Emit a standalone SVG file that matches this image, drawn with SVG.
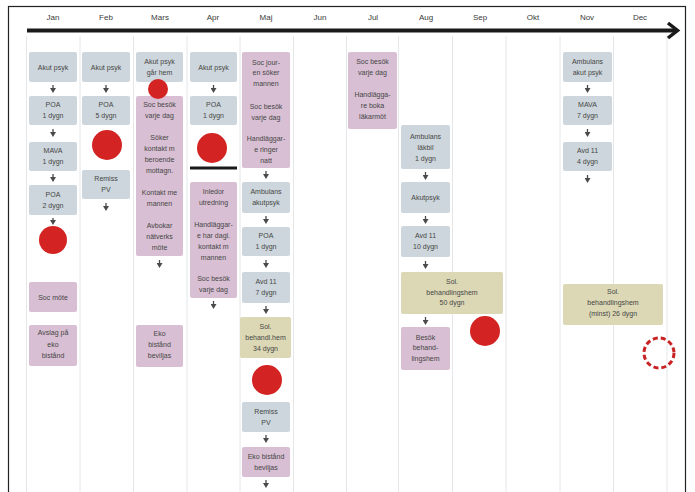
<svg xmlns="http://www.w3.org/2000/svg" width="695" height="492" viewBox="0 0 695 492">
<defs>
<marker id="ah" markerWidth="5" markerHeight="6" refX="1" refY="3" orient="auto" markerUnits="userSpaceOnUse" viewBox="0 0 5 6">
<path d="M0,0 L5,3 L0,6 Z" fill="#4a4a4a"/>
</marker>
</defs>
<style>
.g{fill:#cdd6dc}
.p{fill:#d8bfd3}
.t{fill:#dcd8b5}
.grid{stroke:#e4e6e8;stroke-width:1}
text{font-family:"Liberation Sans",Arial,sans-serif;font-size:7px;fill:#464646;text-anchor:middle}
.m{font-size:8px;fill:#3a3a3a}
.dot{fill:#d42323}
.con line{stroke:#4a4a4a;stroke-width:1.3;marker-end:url(#ah)}
</style>
<rect width="695" height="492" fill="#fff"/>
<rect x="8.5" y="6.5" width="677" height="500" fill="none" stroke="#222" stroke-width="1.2"/>
<g id="grid">
<line class="grid" x1="26.5" y1="36" x2="26.5" y2="492"/>
<line class="grid" x1="80" y1="36" x2="80" y2="492"/>
<line class="grid" x1="133.5" y1="36" x2="133.5" y2="492"/>
<line class="grid" x1="187" y1="36" x2="187" y2="492"/>
<line class="grid" x1="240" y1="36" x2="240" y2="492"/>
<line class="grid" x1="293.5" y1="36" x2="293.5" y2="492"/>
<line class="grid" x1="346.5" y1="36" x2="346.5" y2="492"/>
<line class="grid" x1="398.5" y1="36" x2="398.5" y2="492"/>
<line class="grid" x1="452.5" y1="36" x2="452.5" y2="492"/>
<line class="grid" x1="506" y1="36" x2="506" y2="492"/>
<line class="grid" x1="560" y1="36" x2="560" y2="492"/>
<line class="grid" x1="613.5" y1="36" x2="613.5" y2="492"/>
<line class="grid" x1="667" y1="36" x2="667" y2="492"/>
</g>
<g id="months">
<text class="m" x="53" y="20">Jan</text>
<text class="m" x="106" y="20">Feb</text>
<text class="m" x="160" y="20">Mars</text>
<text class="m" x="213" y="20">Apr</text>
<text class="m" x="266" y="20">Maj</text>
<text class="m" x="320" y="20">Jun</text>
<text class="m" x="373" y="20">Jul</text>
<text class="m" x="426" y="20">Aug</text>
<text class="m" x="480" y="20">Sep</text>
<text class="m" x="533" y="20">Okt</text>
<text class="m" x="587" y="20">Nov</text>
<text class="m" x="640" y="20">Dec</text>
</g>
<g id="timeline">
<line x1="27" y1="30.5" x2="677" y2="30.5" stroke="#1a1a1a" stroke-width="4"/>
<polyline points="668,23 677.5,30.5 668,38" fill="none" stroke="#1a1a1a" stroke-width="3.5" stroke-linejoin="miter"/>
</g>

<g id="jan">
<g id="jan1"><rect class="g" x="29" y="52" width="48" height="30" rx="2"/><text x="53" y="69.5">Akut psyk</text></g>
<g id="jan2"><rect class="g" x="29" y="96" width="48" height="29" rx="2"/><text x="53" y="107">POA</text><text x="53" y="118">1 dygn</text></g>
<g id="jan3"><rect class="g" x="29" y="142" width="48" height="29" rx="2"/><text x="53" y="153">MAVA</text><text x="53" y="164">1 dygn</text></g>
<g id="jan4"><rect class="g" x="29" y="185" width="48" height="30" rx="2"/><text x="53" y="197">POA</text><text x="53" y="208">2 dygn</text></g>
<circle id="jan5" class="dot" cx="53" cy="240" r="14"/>
<g id="jan6"><rect class="p" x="29" y="282" width="48" height="30" rx="2"/><text x="53" y="299.5">Soc möte</text></g>
<g id="jan7"><rect class="p" x="29" y="325" width="48" height="41" rx="2"/><text x="53" y="335">Avslag på</text><text x="53" y="346.5">eko</text><text x="53" y="358">bistånd</text></g>
</g>

<g id="feb">
<g id="feb1"><rect class="g" x="82" y="52" width="48" height="30" rx="2"/><text x="106" y="69.5">Akut psyk</text></g>
<g id="feb2"><rect class="g" x="82" y="96" width="48" height="29" rx="2"/><text x="106" y="107">POA</text><text x="106" y="118">5 dygn</text></g>
<circle id="feb3" class="dot" cx="107" cy="145" r="15"/>
<g id="feb4"><rect class="g" x="82" y="170" width="48" height="29" rx="2"/><text x="106" y="181">Remiss</text><text x="106" y="192">PV</text></g>
</g>

<g id="mars">
<g id="mar1"><rect class="g" x="136" y="52" width="47" height="30" rx="2"/><text x="159.5" y="63.5">Akut psyk</text><text x="159.5" y="74.5">går hem</text></g>
<g id="mar3"><rect class="p" x="136" y="96" width="47" height="160" rx="2"/>
<text x="159.5" y="107">Soc besök</text><text x="159.5" y="118">varje dag</text>
<text x="159.5" y="140">Söker</text><text x="159.5" y="151">kontakt m</text><text x="159.5" y="162">beroende</text><text x="159.5" y="173">mottagn.</text>
<text x="159.5" y="195">Kontakt me</text><text x="159.5" y="206">mannen</text>
<text x="159.5" y="228">Avbokar</text><text x="159.5" y="239">nätverks</text><text x="159.5" y="250">möte</text></g>
<circle id="mar2" class="dot" cx="158" cy="89" r="10"/>
<g id="mar4"><rect class="p" x="136" y="325" width="47" height="42" rx="2"/><text x="159.5" y="336">Eko</text><text x="159.5" y="347">bistånd</text><text x="159.5" y="358">beviljas</text></g>
</g>

<g id="apr">
<g id="apr1"><rect class="g" x="190" y="52" width="47" height="30" rx="2"/><text x="213.5" y="69.5">Akut psyk</text></g>
<g id="apr2"><rect class="g" x="190" y="96" width="47" height="29" rx="2"/><text x="213.5" y="107">POA</text><text x="213.5" y="118">1 dygn</text></g>
<circle id="apr3" class="dot" cx="212" cy="148" r="15"/>
<line id="apr4" x1="190" y1="168" x2="237" y2="168" stroke="#1a1a1a" stroke-width="3"/>
<g id="apr5"><rect class="p" x="190" y="182" width="47" height="116" rx="2"/>
<text x="213.5" y="194">Inledor</text><text x="213.5" y="205">utredning</text>
<text x="213.5" y="227">Handläggar-</text><text x="213.5" y="238">e har dagl.</text><text x="213.5" y="249">kontakt m</text><text x="213.5" y="260">mannen</text>
<text x="213.5" y="281">Soc besök</text><text x="213.5" y="292">varje dag</text></g>
</g>

<g id="maj">
<g id="maj1"><rect class="p" x="242" y="52" width="48" height="116" rx="2"/>
<text x="266" y="64.5">Soc jour-</text><text x="266" y="75">en söker</text><text x="266" y="86">mannen</text>
<text x="266" y="108.5">Soc besök</text><text x="266" y="119.5">varje dag</text>
<text x="266" y="140.5">Handläggar-</text><text x="266" y="151.5">e ringer</text><text x="266" y="163">natt</text></g>
<g id="maj2"><rect class="g" x="242" y="182" width="48" height="31" rx="2"/><text x="266" y="194">Ambulans</text><text x="266" y="205">akutpsyk</text></g>
<g id="maj3"><rect class="g" x="242" y="227" width="48" height="29" rx="2"/><text x="266" y="238">POA</text><text x="266" y="249">1 dygn</text></g>
<g id="maj4"><rect class="g" x="242" y="272" width="48" height="31" rx="2"/><text x="266" y="284">Avd 11</text><text x="266" y="295">7 dygn</text></g>
<g id="maj5"><rect class="t" x="240" y="317" width="51" height="41" rx="2"/><text x="265.5" y="329">Sol.</text><text x="265.5" y="340">behandl.hem</text><text x="265.5" y="351">34 dygn</text></g>
<circle id="maj6" class="dot" cx="267" cy="380" r="15"/>
<g id="maj7"><rect class="g" x="242" y="402" width="48" height="30" rx="2"/><text x="266" y="413.5">Remiss</text><text x="266" y="424.5">PV</text></g>
<g id="maj8"><rect class="p" x="242" y="447" width="48" height="30" rx="2"/><text x="266" y="458.5">Eko bistånd</text><text x="266" y="469.5">beviljas</text></g>
</g>

<g id="jul">
<g id="jul1"><rect class="p" x="348" y="52" width="49" height="77" rx="2"/>
<text x="372.5" y="63.5">Soc besök</text><text x="372.5" y="74.5">varje dag</text>
<text x="372.5" y="96.5">Handlägga-</text><text x="372.5" y="107.5">re boka</text><text x="372.5" y="118.5">läkarmöt</text></g>
</g>

<g id="aug">
<g id="aug1"><rect class="g" x="401" y="125" width="49" height="44" rx="2"/><text x="425.5" y="138.5">Ambulans</text><text x="425.5" y="149.5">läkbil</text><text x="425.5" y="160.5">1 dygn</text></g>
<g id="aug2"><rect class="g" x="401" y="182" width="49" height="31" rx="2"/><text x="425.5" y="200">Akutpsyk</text></g>
<g id="aug3"><rect class="g" x="401" y="226" width="49" height="31" rx="2"/><text x="425.5" y="238">Avd 11</text><text x="425.5" y="249">10 dygn</text></g>
<g id="aug4"><rect class="t" x="401" y="272" width="102" height="42" rx="2"/><text x="452" y="284">Sol.</text><text x="452" y="294.5">behandlingshem</text><text x="452" y="305">50 dygn</text></g>
<g id="aug5"><rect class="p" x="401" y="327" width="49" height="43" rx="2"/><text x="425.5" y="339.5">Besök</text><text x="425.5" y="350">behand-</text><text x="425.5" y="360.5">lingshem</text></g>
</g>
<circle id="sep1" class="dot" cx="485" cy="331" r="15"/>

<g id="nov">
<g id="nov1"><rect class="g" x="563" y="52" width="49" height="30" rx="2"/><text x="587.5" y="63.5">Ambulans</text><text x="587.5" y="74.5">akut psyk</text></g>
<g id="nov2"><rect class="g" x="563" y="96" width="49" height="29" rx="2"/><text x="587.5" y="107">MAVA</text><text x="587.5" y="118">7 dygn</text></g>
<g id="nov3"><rect class="g" x="563" y="142" width="49" height="29" rx="2"/><text x="587.5" y="153">Avd 11</text><text x="587.5" y="164">4 dygn</text></g>
<g id="nov4"><rect class="t" x="563" y="284" width="100" height="41" rx="2"/><text x="613" y="293.5">Sol.</text><text x="613" y="304.5">behandlingshem</text><text x="613" y="315.5">(minst) 26 dygn</text></g>
</g>
<circle id="dec1" cx="659" cy="353" r="15" fill="none" stroke="#c82222" stroke-width="3" stroke-dasharray="5 3"/>

<g id="connectors" class="con">
<line x1="53" y1="85" x2="53" y2="89"/>
<line x1="53" y1="129" x2="53" y2="133"/>
<line x1="53" y1="174" x2="53" y2="178"/>
<line x1="53" y1="218" x2="53" y2="221"/>
<line x1="106" y1="85" x2="106" y2="89"/>
<line x1="106" y1="203" x2="106" y2="207"/>
<line x1="159.5" y1="260" x2="159.5" y2="264"/>
<line x1="213.5" y1="85" x2="213.5" y2="89"/>
<line x1="213.5" y1="301" x2="213.5" y2="305"/>
<line x1="266" y1="171" x2="266" y2="175"/>
<line x1="266" y1="216" x2="266" y2="220"/>
<line x1="266" y1="260" x2="266" y2="264"/>
<line x1="266" y1="306" x2="266" y2="310"/>
<line x1="266" y1="435" x2="266" y2="439"/>
<line x1="266" y1="480" x2="266" y2="484"/>
<line x1="425.5" y1="172" x2="425.5" y2="176"/>
<line x1="425.5" y1="216" x2="425.5" y2="220"/>
<line x1="425.5" y1="261" x2="425.5" y2="265"/>
<line x1="425.5" y1="317" x2="425.5" y2="321"/>
<line x1="587.5" y1="85" x2="587.5" y2="89"/>
<line x1="587.5" y1="129" x2="587.5" y2="133"/>
<line x1="587.5" y1="175" x2="587.5" y2="179"/>
</g>
</svg>
